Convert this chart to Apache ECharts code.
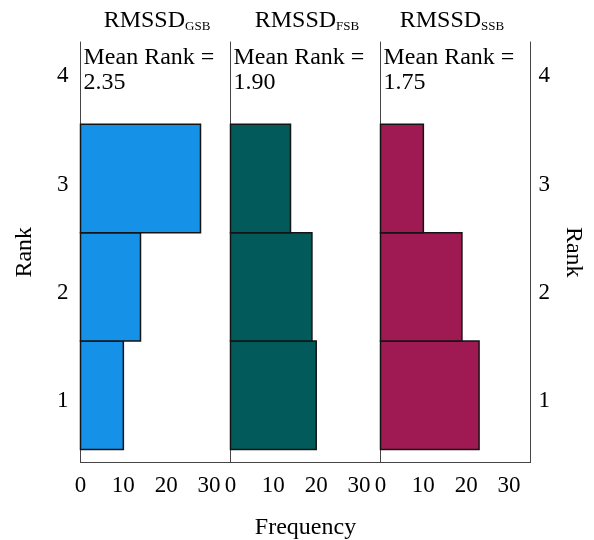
<!DOCTYPE html>
<html>
<head>
<meta charset="utf-8">
<script src="https://cdn.jsdelivr.net/npm/echarts@6/dist/echarts.min.js"></script>
<style>
  html, body { margin: 0; padding: 0; background: #fff; }
  #chart { width: 594px; height: 540px; }
</style>
</head>
<body>
<div id="chart"></div>
<script>
// Rank frequencies per RMSSD condition (index 0 = rank 1, 1 = rank 2, 2 = rank 3)
const ranks = [1, 2, 3];
const freqGSB = [10, 14, 28];
const freqFSB = [20, 19, 14];
const freqSSB = [23, 19, 10];

const panelNames = ['GSB', 'FSB', 'SSB'];
const meanRanks = ['2.35', '1.90', '1.75'];
const panelColors = ['#1591e7', '#035a5b', '#9f1a52'];

const xTicks = [0, 10, 20, 30];
const rankTicks = [1, 2, 3, 4];

const FONT = "'Liberation Serif', 'Times New Roman', serif";
const seriesData = [freqGSB, freqFSB, freqSSB];

const panelLeft = 80.5, panelWidth = 150, gridTop = 42, gridHeight = 420.5;

// Rank labels sit slightly below their tick position
const rankLabelStyle = {
  customValues: rankTicks, color: '#000', fontFamily: FONT, fontSize: 23,
  verticalAlign: 'top', lineHeight: 12
};

const grids = [], xAxes = [], yAxes = [], series = [], graphics = [];

for (let i = 0; i < 3; i++) {
  const left = panelLeft + panelWidth * i;
  grids.push({
    left: left, top: gridTop, width: panelWidth, height: gridHeight,
    containLabel: false, outerBoundsMode: 'none'
  });

  xAxes.push({
    gridIndex: i, type: 'value', min: 0, max: 35,
    axisLine: { show: true, lineStyle: { color: '#444', width: 1 } },
    axisTick: { show: false },
    splitLine: { show: false },
    axisLabel: { customValues: xTicks, color: '#000', fontFamily: FONT, fontSize: 23, margin: 12 },
    name: i === 1 ? 'Frequency' : '',
    nameLocation: 'middle', nameGap: 53,
    nameTextStyle: { color: '#000', fontFamily: FONT, fontSize: 24 }
  });

  yAxes.push({
    gridIndex: i, type: 'value', min: 0.38, max: 4.26, position: 'left',
    axisLine: { show: true, onZero: false, lineStyle: { color: '#444', width: 1 } },
    axisTick: { show: false },
    splitLine: { show: false },
    axisLabel: Object.assign({ show: i === 0, margin: 12 }, rankLabelStyle),
    name: i === 0 ? 'Rank' : '',
    nameLocation: 'middle', nameGap: 44, nameRotate: 90,
    nameTextStyle: { color: '#000', fontFamily: FONT, fontSize: 24 }
  });

  const color = panelColors[i];
  const values = seriesData[i];
  series.push({
    type: 'custom',
    xAxisIndex: i, yAxisIndex: i,
    data: ranks.map((r, k) => [values[k], r]),
    renderItem: function (params, api) {
      const v = api.value(0), r = api.value(1);
      const p0 = api.coord([0, r - 0.5]);
      const p1 = api.coord([v, r + 0.5]);
      return {
        type: 'rect',
        shape: { x: p0[0], y: p1[1], width: p1[0] - p0[0], height: p0[1] - p1[1] },
        style: { fill: color, stroke: '#141414', lineWidth: 1.5 }
      };
    },
    encode: { x: 0, y: 1 }
  });

  // Panel heading and mean rank annotation
  const centers = [157, 307, 452];
  graphics.push({
    type: 'text', x: centers[i], y: 21, z: 10,
    style: {
      text: '{m|RMSSD}{s|' + panelNames[i] + '}',
      align: 'center', verticalAlign: 'middle',
      rich: {
        m: { fontFamily: FONT, fontSize: 24, lineHeight: 24, verticalAlign: 'bottom', fill: '#000' },
        s: { fontFamily: FONT, fontSize: 13, lineHeight: 13, verticalAlign: 'bottom', fill: '#000' }
      }
    }
  });
  graphics.push({
    type: 'text', x: left + 3, y: 58, z: 10,
    style: { text: 'Mean Rank =', fontFamily: FONT, fontSize: 24, fill: '#000', align: 'left', verticalAlign: 'middle' }
  });
  graphics.push({
    type: 'text', x: left + 3, y: 83, z: 10,
    style: { text: meanRanks[i], fontFamily: FONT, fontSize: 24, fill: '#000', align: 'left', verticalAlign: 'middle' }
  });
}

// Right-hand rank axis on the last panel
yAxes.push({
  gridIndex: 2, type: 'value', min: 0.38, max: 4.26, position: 'right',
  axisLine: { show: true, onZero: false, lineStyle: { color: '#444', width: 1 } },
  axisTick: { show: false },
  splitLine: { show: false },
  axisLabel: Object.assign({ margin: 8 }, rankLabelStyle),
  name: 'Rank', nameLocation: 'middle', nameGap: 31, nameRotate: -90,
  nameTextStyle: { color: '#000', fontFamily: FONT, fontSize: 24 }
});

const chart = echarts.init(document.getElementById('chart'), null, { renderer: 'canvas' });
chart.setOption({
  animation: false,
  backgroundColor: '#fff',
  textStyle: { fontFamily: FONT },
  grid: grids,
  xAxis: xAxes,
  yAxis: yAxes,
  series: series,
  graphic: graphics
});
</script>
</body>
</html>
